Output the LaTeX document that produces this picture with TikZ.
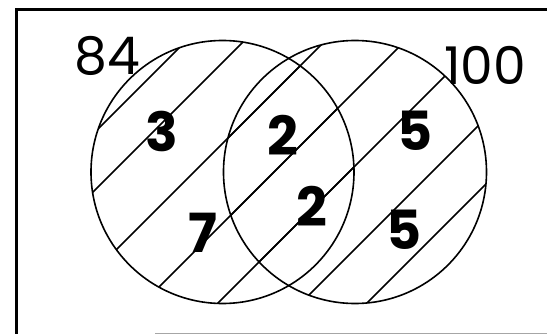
\documentclass[tikz,border=0pt]{standalone}
\usepackage{fontspec}
\setmainfont{Poppins}
\begin{document}
\begin{tikzpicture}[x=1pt,y=-1pt,
  venn/.style={circle,draw,line width=1.6pt,minimum size=263pt,inner sep=0pt},
  hatch/.style={line width=1.5pt},
  setlabel/.style={font=\fontsize{52}{52}\selectfont,inner sep=0pt},
  countlabel/.style={font=\fontsize{54}{54}\selectfont\bfseries,inner sep=0pt}]
\useasboundingbox (0,0) rectangle (547,334);
\fill[white] (0,0) rectangle (547,334);
% frame
\coordinate (tl) at (16,9.5);
\coordinate (tr) at (547,9.5);
\coordinate (bl) at (16,334);
\coordinate (bls) at (155,333);
\coordinate (brs) at (547,333);
\draw[line width=3pt] (bl) -- (tl) -- (tr);
\draw[line width=1pt,black!35] (bls) -- (brs);
% circles
\node[venn] (L) at (222.5,172) {};
\node[venn] (R) at (355,172) {};
% hatching, clipped to each circle
\foreach \cc in {L,R}{
  \begin{scope}
    \clip (\cc.center) circle[radius=131.5pt];
    \foreach \c in {227,285,366,446,521,604,670}{
      \draw[hatch] (\c-330,330) -- (\c,0);
    }
  \end{scope}
}
% set labels
\node[setlabel] (a) at (107,56) {84};
\node[setlabel] (b) at (485,65) {100};
% counts
\node[countlabel] (n1) at (162,131) {3};
\node[countlabel] (n2) at (203,233) {7};
\node[countlabel] (n3) at (283,135) {2};
\node[countlabel] (n4) at (312,206) {2};
\node[countlabel] (n5) at (415,131) {5};
\node[countlabel] (n6) at (404,230) {5};
\end{tikzpicture}
\end{document}
